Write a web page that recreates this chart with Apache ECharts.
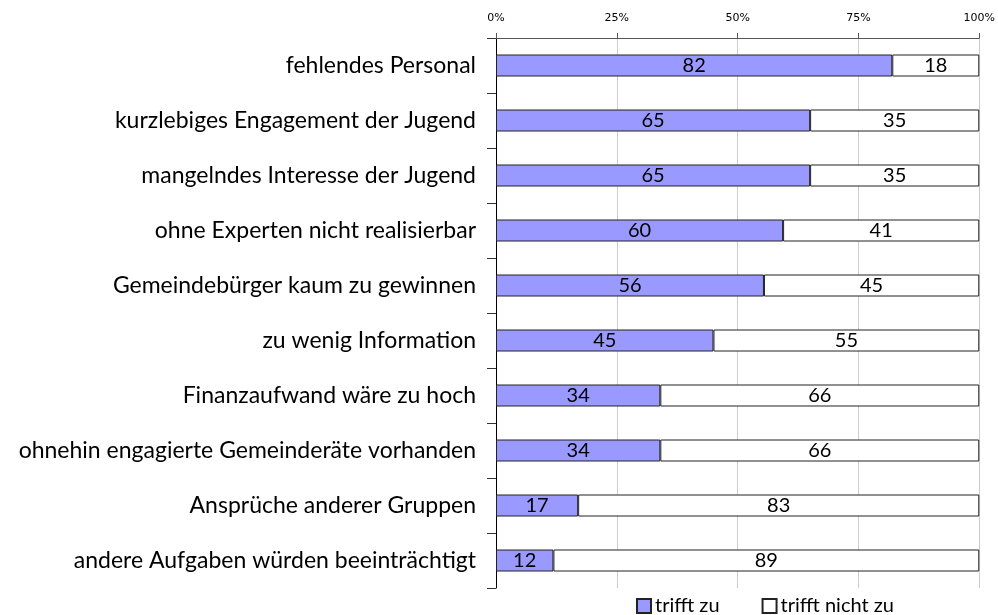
<!DOCTYPE html>
<html>
<head>
<meta charset="utf-8">
<script src="https://cdn.jsdelivr.net/npm/echarts@6/dist/echarts.min.js"></script>
<style>
html, body { margin: 0; padding: 0; background: #fff; }
#chart { width: 998px; height: 615px; }
</style>
</head>
<body>
<div id="chart"></div>
<script>
// Gründe gegen ein Engagement (Angaben in %)
var categories = [
    'fehlendes Personal',
    'kurzlebiges Engagement der Jugend',
    'mangelndes Interesse der Jugend',
    'ohne Experten nicht realisierbar',
    'Gemeindebürger kaum zu gewinnen',
    'zu wenig Information',
    'Finanzaufwand wäre zu hoch',
    'ohnehin engagierte Gemeinderäte vorhanden',
    'Ansprüche anderer Gruppen',
    'andere Aufgaben würden beeinträchtigt'
];
var triffzu = [82, 65, 65, 60, 56, 45, 34, 34, 17, 12];
var triffnicht = [18, 35, 35, 41, 45, 55, 66, 66, 83, 89];
var xTicks = ['0%', '25%', '50%', '75%', '100%'];

// 100%-Stapel: Anteil an der Zeilensumme
function share(a, i) { return a[i] / (triffzu[i] + triffnicht[i]) * 100; }
var zuPct = triffzu.map(function (v, i) { return share(triffzu, i); });
var nichtPct = triffnicht.map(function (v, i) { return share(triffnicht, i); });

var font = 'Lato, "Open Sans", sans-serif';

echarts.init(document.getElementById('chart')).setOption({
    animation: false,
    grid: { left: 496, right: 18, top: 38, bottom: 27 },
    legend: {
        top: 591,
        left: 631,
        itemWidth: 14,
        itemHeight: 14,
        itemGap: 42,
        icon: 'rect',
        textStyle: { fontFamily: font, fontSize: 20, color: '#000', padding: [0, 0, 0, -1] },
        data: ['trifft zu', 'trifft nicht zu']
    },
    xAxis: {
        type: 'value',
        position: 'top',
        min: 0,
        max: 100,
        interval: 25,
        axisLine: { show: true, lineStyle: { color: '#555', width: 1 } },
        axisTick: { show: true, length: 5, lineStyle: { color: '#555' } },
        axisLabel: {
            fontFamily: 'DejaVu Sans', fontSize: 11, color: '#000', margin: 14,
            formatter: function (v) { return xTicks[v / 25]; }
        },
        splitLine: { show: true, lineStyle: { color: '#ccc', width: 1 } }
    },
    yAxis: {
        type: 'category',
        inverse: true,
        data: categories,
        axisLine: { show: true, lineStyle: { color: '#000', width: 1 } },
        axisTick: { show: true, length: 9, lineStyle: { color: '#333' } },
        axisLabel: { fontFamily: font, fontSize: 23, color: '#000', margin: 20 }
    },
    series: [
        {
            name: 'trifft zu',
            type: 'bar',
            stack: 'a',
            barWidth: '40%',
            data: zuPct,
            itemStyle: { color: '#9999ff', borderColor: '#222', borderWidth: 1 },
            label: {
                show: true, position: 'inside', fontFamily: font, fontSize: 20, color: '#000',
                formatter: function (p) { return triffzu[p.dataIndex]; }
            }
        },
        {
            name: 'trifft nicht zu',
            type: 'bar',
            stack: 'a',
            barWidth: '40%',
            data: nichtPct,
            itemStyle: { color: '#ffffff', borderColor: '#222', borderWidth: 1 },
            label: {
                show: true, position: 'inside', fontFamily: font, fontSize: 20, color: '#000',
                formatter: function (p) { return triffnicht[p.dataIndex]; }
            }
        }
    ]
});
</script>
</body>
</html>
